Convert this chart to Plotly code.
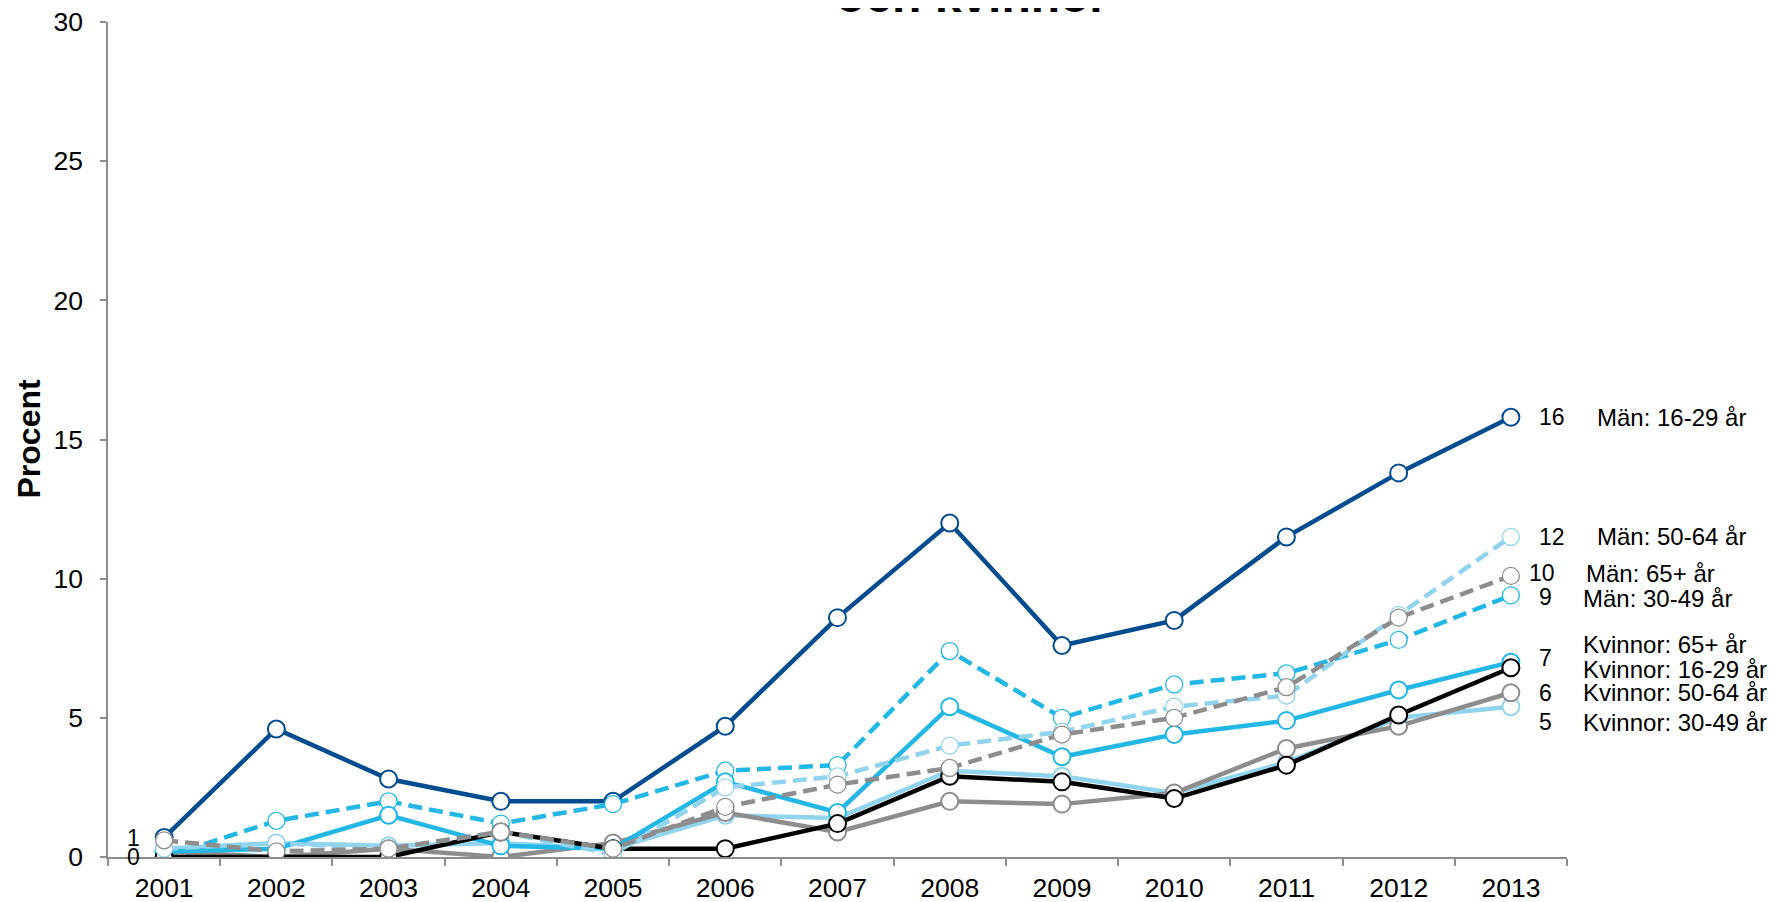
import plotly.graph_objects as go

years = ["2001", "2002", "2003", "2004", "2005", "2006", "2007",
         "2008", "2009", "2010", "2011", "2012", "2013"]

man_16_29 = [0.7, 4.6, 2.8, 2.0, 2.0, 4.7, 8.6, 12.0, 7.6, 8.5, 11.5, 13.8, 15.8]
man_50_64 = [0.3, 0.5, 0.3, 0.9, 0.1, 2.5, 2.9, 4.0, 4.5, 5.4, 5.8, 8.7, 11.5]
man_65 = [0.6, 0.2, 0.3, 0.9, 0.3, 1.8, 2.6, 3.2, 4.4, 5.0, 6.1, 8.6, 10.1]
man_30_49 = [0.0, 1.3, 2.0, 1.2, 1.9, 3.1, 3.3, 7.4, 5.0, 6.2, 6.6, 7.8, 9.4]
kv_30_49 = [0.3, 0.5, 0.4, 0.5, 0.3, 1.5, 1.4, 3.1, 2.9, 2.3, 3.4, 5.0, 5.4]
kv_50_64 = [0.2, 0.0, 0.3, 0.0, 0.5, 1.6, 0.9, 2.0, 1.9, 2.3, 3.9, 4.7, 5.9]
kv_65 = [0.2, 0.3, 1.5, 0.4, 0.3, 2.7, 1.6, 5.4, 3.6, 4.4, 4.9, 6.0, 7.0]
kv_16_29 = [0.0, 0.0, 0.0, 0.9, 0.3, 0.3, 1.2, 2.9, 2.7, 2.1, 3.3, 5.1, 6.8]

DARK = "#004C8F"
CYAN = "#22B7E4"
LIGHT = "#92D3EE"
GRAY = "#8D8D8D"
BLACK = "#000000"
FONT = "Liberation Sans, Arial, sans-serif"

# (name, values, colour, dashed)
series = [
    ("Män: 16-29 år", man_16_29, DARK, False),
    ("Män: 30-49 år", man_30_49, CYAN, True),
    ("Kvinnor: 30-49 år", kv_30_49, LIGHT, False),
    ("Kvinnor: 50-64 år", kv_50_64, GRAY, False),
    ("Kvinnor: 65+ år", kv_65, CYAN, False),
    ("Kvinnor: 16-29 år", kv_16_29, BLACK, False),
    ("Män: 50-64 år", man_50_64, LIGHT, True),
    ("Män: 65+ år", man_65, GRAY, True),
]

fig = go.Figure()
for name, vals, col, dashed in series:
    fig.add_trace(go.Scatter(
        x=years, y=vals, name=name, mode="lines+markers",
        line=dict(color=col, width=4.5, dash="14px,7px" if dashed else "solid"),
        marker=dict(size=17, color="white",
                    line=dict(color=col, width=1.3 if dashed else 2)),
        showlegend=False, hoverinfo="x+y+name",
    ))


def rnd(v):
    return str(int(v + 0.5))


last = len(years) - 1
ann = []
# end-value numbers: (series value list, label y position, x shift)
end_nums = [
    (man_16_29, 15.8, 26),
    (man_50_64, 11.5, 26),
    (man_65, 10.2, 16),
    (man_30_49, 9.35, 26),
    (kv_65, 7.15, 26),
    (kv_50_64, 5.9, 26),
    (kv_30_49, 4.85, 26),
]
for vals, ypos, xs in end_nums:
    ann.append(dict(x=last, y=ypos, xref="x", yref="y", text=rnd(vals[-1]),
                    showarrow=False, xanchor="left", xshift=xs,
                    font=dict(size=23, color="black", family=FONT)))

# series names on the right: (name, label y position, pixel offset from plot right edge)
names_right = [
    ("Män: 16-29 år", 15.8, 28),
    ("Män: 50-64 år", 11.5, 28),
    ("Män: 65+ år", 10.2, 17),
    ("Män: 30-49 år", 9.3, 14),
    ("Kvinnor: 65+ år", 7.65, 14),
    ("Kvinnor: 16-29 år", 6.75, 14),
    ("Kvinnor: 50-64 år", 5.9, 14),
    ("Kvinnor: 30-49 år", 4.85, 14),
]
for txt, ypos, xs in names_right:
    ann.append(dict(x=1, y=ypos, xref="paper", yref="y", text=txt,
                    showarrow=False, xanchor="left", xshift=xs,
                    font=dict(size=24, color="black", family=FONT)))

# start labels at 2001
for vals in (man_16_29, kv_16_29):
    ann.append(dict(x=0, y=vals[0], xref="x", yref="y", text=rnd(vals[0]),
                    showarrow=False, xanchor="right", xshift=-22,
                    font=dict(size=23, color="black", family=FONT)))

# y-axis title
ann.append(dict(x=0, y=0.5, xref="paper", yref="paper", text="<b>Procent</b>",
                showarrow=False, textangle=-90, xanchor="center", yanchor="middle",
                xshift=-80, font=dict(size=32, color="black", family=FONT)))

# title (mostly cut off at the top of the image)
ann.append(dict(x=0.5925, y=1.0, xref="paper", yref="paper", text="<b>och kvinnor</b>",
                showarrow=False, xanchor="center", yanchor="bottom", yshift=-2,
                font=dict(size=48, color="black", family=FONT)))

fig.update_layout(
    width=1778, height=902,
    margin=dict(l=100, r=219, t=13.5, b=53),
    paper_bgcolor="white", plot_bgcolor="white",
    font=dict(family=FONT, color="black", size=26),
    annotations=ann,
    xaxis=dict(type="category", range=[-0.5, 12.5], showgrid=False, zeroline=False,
               automargin=False, ticklabeloverflow="allow",
               showline=True, linecolor="#8C8C8C", linewidth=1.5,
               ticks="outside", tickson="boundaries", ticklen=7, tickcolor="#8C8C8C",
               tickwidth=1.5, ticklabelstandoff=6, tickfont=dict(size=26.5, color="black")),
    yaxis=dict(range=[0, 30], dtick=5, showgrid=False, zeroline=False,
               automargin=False, ticklabeloverflow="allow",
               showline=True, linecolor="#8C8C8C", linewidth=1.5,
               ticks="outside", ticklen=6, tickcolor="#8C8C8C", tickwidth=1.5,
               ticklabelstandoff=12, tickfont=dict(size=26.5, color="black")),
)

fig.write_html("out.html")
